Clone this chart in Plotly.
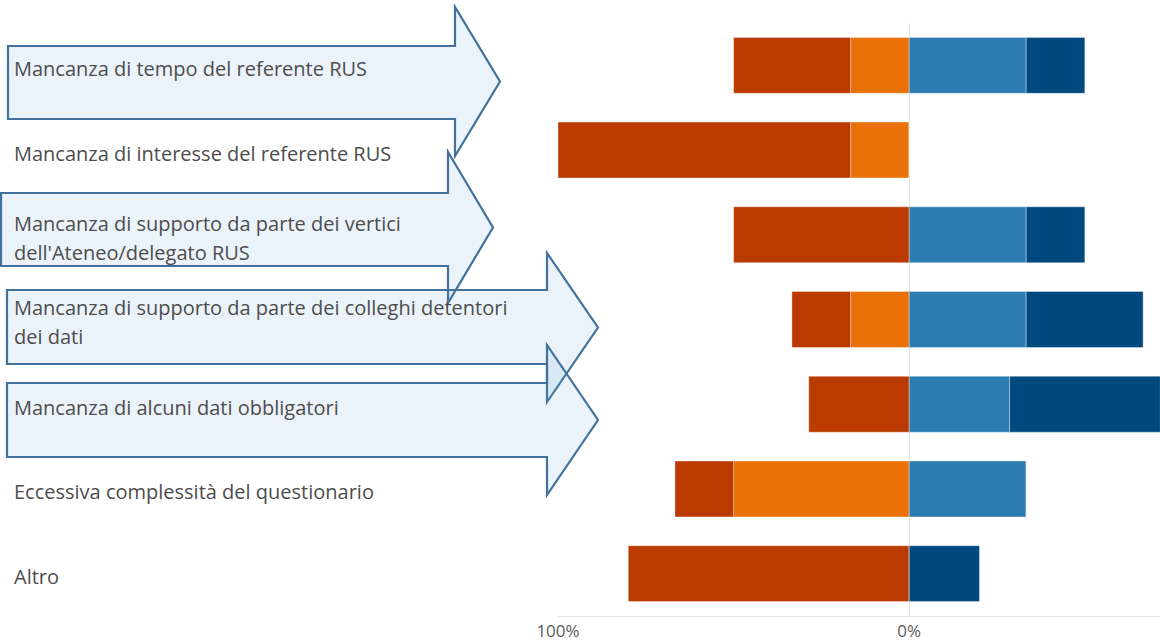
import plotly.graph_objects as go

# ---- data ----
categories = [
    "Mancanza di tempo del referente RUS",
    "Mancanza di interesse del referente RUS",
    "Mancanza di supporto da parte dei vertici dell'Ateneo/delegato RUS",
    "Mancanza di supporto da parte dei colleghi detentori dei dati",
    "Mancanza di alcuni dati obbligatori",
    "Eccessiva complessità del questionario",
    "Altro",
]
label_lines = [
    ["Mancanza di tempo del referente RUS"],
    ["Mancanza di interesse del referente RUS"],
    ["Mancanza di supporto da parte dei vertici", "dell'Ateneo/delegato RUS"],
    ["Mancanza di supporto da parte dei colleghi detentori", "dei dati"],
    ["Mancanza di alcuni dati obbligatori"],
    ["Eccessiva complessità del questionario"],
    ["Altro"],
]
red = [33.3, 83.3, 50.0, 16.7, 28.6, 16.7, 80.0]
orange = [16.7, 16.7, 0.0, 16.7, 0.0, 50.0, 0.0]
light_blue = [33.3, 0.0, 33.3, 33.3, 28.6, 33.3, 0.0]
dark_blue = [16.7, 0.0, 16.7, 33.3, 42.9, 0.0, 20.0]
tick_vals = [-100, 0]
tick_text = ["100%", "0%"]

W, H = 1160, 642
C_RED = "#BB3A00"
C_ORANGE = "#EA7108"
C_LBLUE = "#2C7BB1"
C_DBLUE = "#00497F"
edge = dict(width=0.8, color="rgba(255,255,255,0.45)")

fig = go.Figure()
fig.add_trace(go.Bar(y=categories, x=[-v for v in orange], orientation="h",
                     marker=dict(color=C_ORANGE, line=edge), width=0.66, name="o"))
fig.add_trace(go.Bar(y=categories, x=[-v for v in red], orientation="h",
                     marker=dict(color=C_RED, line=edge), width=0.66, name="r"))
fig.add_trace(go.Bar(y=categories, x=light_blue, orientation="h",
                     marker=dict(color=C_LBLUE, line=edge), width=0.66, name="lb"))
fig.add_trace(go.Bar(y=categories, x=dark_blue, orientation="h",
                     marker=dict(color=C_DBLUE, line=edge), width=0.66, name="db"))

# ---- labels ----
annotations = []
for cat, lines in zip(categories, label_lines):
    n = len(lines)
    for i, ln in enumerate(lines):
        off = 3 + (i - (n - 1) / 2) * 29
        annotations.append(dict(
            x=12 / W, xref="paper", y=cat, yref="y", text=ln, showarrow=False,
            xanchor="left", yanchor="middle", yshift=-off,
            font=dict(family="Open Sans", size=20, color="#4d4d4d"),
        ))

# ---- overlay arrows (pixel geometry) ----
arrows = [
    # x_left, x_base, x_tip, body_top, body_bot, head_top, head_bot
    (8, 455, 500, 46, 119, 7, 156),
    (1, 448, 493, 193, 266, 152, 303),
    (7, 547, 598, 290, 364, 253, 402),
    (7, 547, 598, 383, 457, 345, 495),
]
shapes = []
def P(px, py):
    return f"{px / W:.5f},{1 - py / H:.5f}"
for xl, xb, xt, bt, bb, ht, hb in arrows:
    ty = (ht + hb) / 2
    path = ("M " + P(xl, bt) + " L " + P(xb, bt) + " L " + P(xb, ht) + " L " + P(xt, ty)
            + " L " + P(xb, hb) + " L " + P(xb, bb) + " L " + P(xl, bb) + " Z")
    shapes.append(dict(type="path", path=path, xref="paper", yref="paper",
                       fillcolor="rgba(91,155,213,0.12)",
                       line=dict(color="#41719C", width=2.2), layer="above"))

fig.update_layout(
    width=W, height=H,
    margin=dict(l=0, r=0, t=0, b=0, autoexpand=False),
    barmode="relative",
    showlegend=False,
    plot_bgcolor="white",
    paper_bgcolor="white",
    annotations=annotations,
    shapes=shapes,
    xaxis=dict(
        domain=[558 / W, 1], range=[-100, 71.4], automargin=False,
        tickvals=tick_vals, ticktext=tick_text,
        showgrid=True, gridcolor="#E2E2E2", gridwidth=1,
        zeroline=False, showline=True, linecolor="#E2E2E2", linewidth=1,
        ticks="", tickfont=dict(family="Open Sans", size=17, color="#5a5a5a"),
        fixedrange=True,
    ),
    yaxis=dict(
        domain=[26 / H, 1 - 23 / H], automargin=False,
        type="category", categoryorder="array", categoryarray=categories,
        autorange="reversed", showticklabels=False, showgrid=False,
        zeroline=False, ticks="", fixedrange=True,
    ),
)

fig.write_html(
    "out.html",
    config={"displayModeBar": False, "staticPlot": True},
    post_script="document.body.style.margin='0';document.body.style.overflow='hidden';",
)
